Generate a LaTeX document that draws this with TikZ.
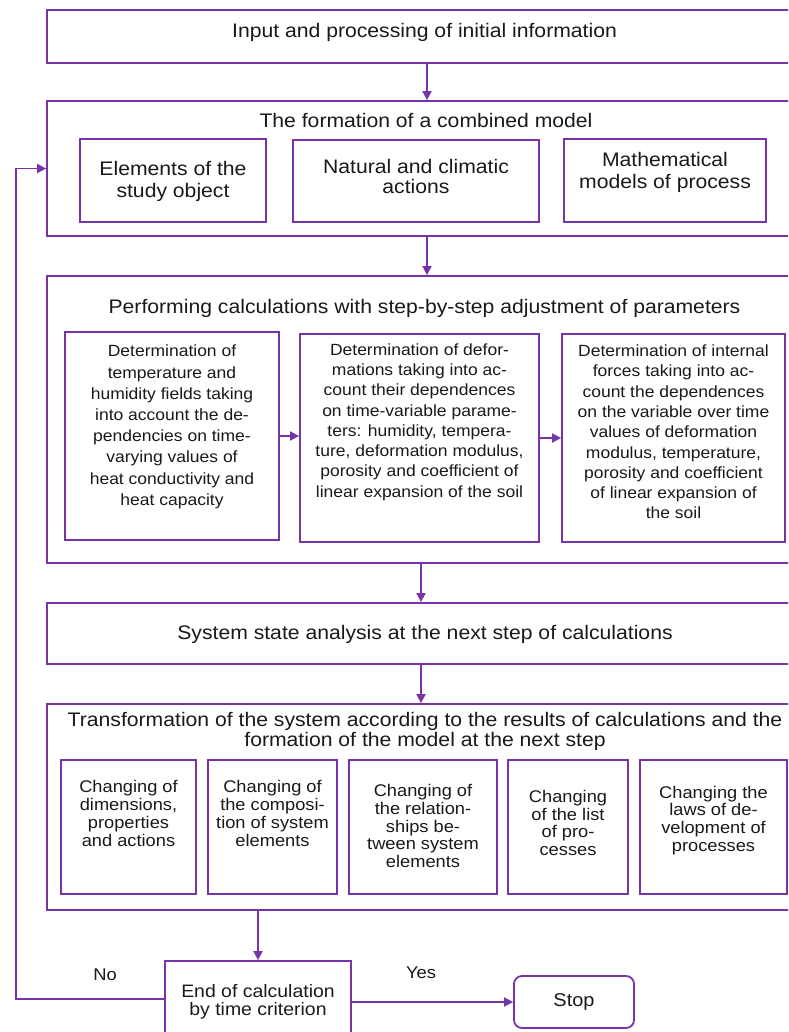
\documentclass[tikz,border=0pt]{standalone}
\usepackage{fontspec}
\setmainfont[FakeStretch=1.08]{Liberation Sans}
\usetikzlibrary{arrows.meta}
\definecolor{pcol}{RGB}{118,52,168}
\definecolor{tcol}{RGB}{25,25,25}
\begin{document}
\begin{tikzpicture}[x=1pt,y=-1pt,
  frame/.style={draw=pcol, line width=1.8pt, rectangle, inner sep=0pt},
  arr/.style={draw=pcol, line width=1.8pt, -{Triangle[length=9pt,width=9pt]}},
  txt/.style={text=tcol, align=center, inner sep=0pt},
  tBig/.style={txt, font=\fontsize{19.6}{20.5}\selectfont},
  tMid/.style={txt, font=\fontsize{16.2}{20.3}\selectfont},
  tSm/.style={txt, font=\fontsize{16.9}{17.8}\selectfont},
  tEnd/.style={txt, font=\fontsize{18}{18}\selectfont},
  tLab/.style={txt, font=\fontsize{17}{17}\selectfont},
]
\useasboundingbox (0,0) rectangle (788,1032);
\clip (0,0) rectangle (788,1032);

% top
\node[frame, minimum width=755pt, minimum height=53pt] (top) at (424.5,36.5) {};
\node[tBig] (topT) at (424.5,32) {Input and processing of initial information};

% combined model
\node[frame, minimum width=755pt, minimum height=135pt] (comb) at (424.5,168.5) {};
\node[tBig] (combT) at (426,120) {The formation of a combined model};
\node[frame, minimum width=186pt, minimum height=83pt] (e1) at (173,180.5) {};
\node[tBig, font=\fontsize{19.6}{22}\selectfont] (e1t) at (173,181) {Elements of the\\study object};
\node[frame, minimum width=246pt, minimum height=82pt] (e2) at (416,181) {};
\node[tBig, font=\fontsize{19.6}{20}\selectfont] (e2t) at (416,176) {Natural and climatic\\actions};
\node[frame, minimum width=202pt, minimum height=83pt] (e3) at (665,180.5) {};
\node[tBig, font=\fontsize{19.6}{22}\selectfont] (e3t) at (665,172) {Mathematical\\models of process};

% performing calculations
\node[frame, minimum width=755pt, minimum height=287pt] (perf) at (424.5,419.5) {};
\node[tBig] (perfT) at (424.5,308) {Performing calculations with step-by-step adjustment of parameters};
\node[frame, minimum width=214pt, minimum height=208pt] (d1) at (172,436) {};
\node[tMid, font=\fontsize{16.2}{21.2}\selectfont] (d1t) at (172,427) {Determination of\\temperature and\\humidity fields taking\\into account the de-\\pendencies on time-\\varying values of\\heat conductivity and\\heat capacity};
\node[frame, minimum width=239pt, minimum height=208pt] (d2) at (419.5,438) {};
\node[tMid] (d2t) at (419.5,422) {Determination of defor-\\mations taking into ac-\\count their dependences\\on time-variable parame-\\ters: humidity, tempera-\\ture, deformation modulus,\\porosity and coefficient of\\linear expansion of the soil};
\node[frame, minimum width=223pt, minimum height=208pt] (d3) at (673.5,438) {};
\node[tMid] (d3t) at (673.5,432) {Determination of internal\\forces taking into ac-\\count the dependences\\on the variable over time\\values of deformation\\modulus, temperature,\\porosity and coefficient\\of linear expansion of\\the soil};

% system state
\node[frame, minimum width=755pt, minimum height=61pt] (state) at (424.5,633.5) {};
\node[tBig] (stateT) at (425,634) {System state analysis at the next step of calculations};

% transformation
\node[frame, minimum width=755pt, minimum height=206pt] (trans) at (424.5,807) {};
\node[tBig, font=\fontsize{19.6}{20}\selectfont] (transT) at (425,731.5) {Transformation of the system according to the results of calculations and the\\formation of the model at the next step};
\node[frame, minimum width=135pt, minimum height=134pt] (c1) at (128.5,827) {};
\node[tSm] (c1t) at (128.5,813.5) {Changing of\\dimensions,\\properties\\and actions};
\node[frame, minimum width=129pt, minimum height=134pt] (c2) at (272.5,827) {};
\node[tSm] (c2t) at (272.5,813.5) {Changing of\\the composi-\\tion of system\\elements};
\node[frame, minimum width=148pt, minimum height=134pt] (c3) at (423,827) {};
\node[tSm] (c3t) at (423,826) {Changing of\\the relation-\\ships be-\\tween system\\elements};
\node[frame, minimum width=120pt, minimum height=134pt] (c4) at (568,827) {};
\node[tSm] (c4t) at (568,823) {Changing\\of the list\\of pro-\\cesses};
\node[frame, minimum width=147pt, minimum height=134pt] (c5) at (713.5,827) {};
\node[tSm] (c5t) at (713.5,820.5) {Changing the\\laws of de-\\velopment of\\processes};

% end and stop
\node[frame, minimum width=186pt, minimum height=89pt] (endb) at (258,1005.5) {};
\node[tEnd] (endt) at (258,1002) {End of calculation\\by time criterion};
\node[frame, rounded corners=8pt, minimum width=120pt, minimum height=52pt] (stop) at (574,1002) {};
\node[tBig, font=\fontsize{18.5}{18.5}\selectfont] (stopt) at (574,1002) {Stop};
\node[tLab] (no) at (105,975) {No};
\node[tLab] (yes) at (421,973) {Yes};

% connectors
\draw[arr] ([xshift=2.5pt]top.south) -- ([xshift=2.5pt]top.south |- comb.north);
\draw[arr] ([xshift=2.5pt]comb.south) -- ([xshift=2.5pt]comb.south |- perf.north);
\draw[arr] (d1.east) -- (d1.east -| d2.west);
\draw[arr] (d2.east) -- (d2.east -| d3.west);
\draw[arr] ([xshift=-3.5pt]perf.south) -- ([xshift=-3.5pt]perf.south |- state.north);
\draw[arr] ([xshift=-3.5pt]state.south) -- ([xshift=-3.5pt]state.south |- trans.north);
\draw[arr] (trans.south -| endb.north) -- (endb.north);
\draw[arr] (stop.west -| endb.east) -- (stop.west);
\coordinate (fb) at (16,999);
\draw[arr] (fb -| endb.west) -- (fb) |- (comb.west);
\end{tikzpicture}
\end{document}
